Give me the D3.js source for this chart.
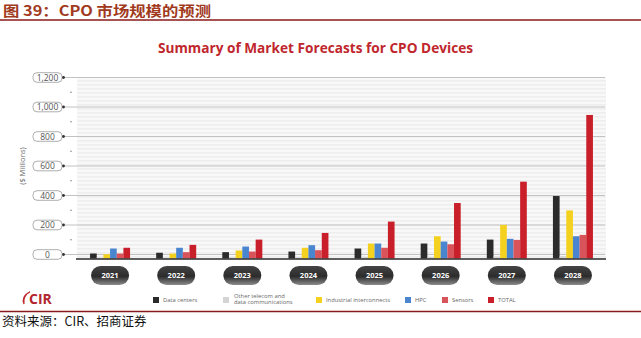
<!DOCTYPE html>
<html>
<head>
<meta charset="utf-8">
<script src="https://cdn.jsdelivr.net/npm/d3@7/dist/d3.min.js"></script>
<style>
  html, body { margin: 0; padding: 0; background: #fff; }
  svg { display: block; }
</style>
</head>
<body>
<svg id="chart" width="641" height="338"></svg>
<script>
// 数据
const years = ["2021", "2022", "2023", "2024", "2025", "2026", "2027", "2028"];
const seriesNames = ["Data centers", "Other telecom and\ndata communications", "Industrial interconnects", "HPC", "Sensors", "TOTAL"];
const dataCenters  = [33, 38, 42, 46, 66, 99, 125, 413];
const otherTelecom = [6, 6, 8, 8, 10, 10, 12, 15];
const industrial   = [28, 33, 53, 71, 99, 147, 222, 318];
const hpc          = [66, 71, 79, 88, 99, 112, 130, 147];
const sensors      = [33, 42, 46, 55, 71, 94, 123, 156];
const total        = [71, 90, 125, 169, 244, 367, 508, 949];
const yTicks = [0, 200, 400, 600, 800, 1000, 1200];
const yMinor = [100, 300, 500, 700, 900, 1100];

const colors = ["#2b2b2b", "#d4d4d4", "#f5d11f", "#4a86d0", "#d9535a", "#c81f2a"];
const allSeries = [dataCenters, otherTelecom, industrial, hpc, sensors, total];

const svg = d3.select("#chart");

// 顶部标题
svg.append("text")
  .attr("x", 3).attr("y", 16)
  .attr("font-family", "'Noto Sans CJK SC', sans-serif")
  .attr("font-weight", 700)
  .attr("font-size", 14)
  .attr("fill", "#a13a1d")
  .attr("textLength", 208)
  .attr("lengthAdjust", "spacingAndGlyphs")
  .text("图 39：CPO 市场规模的预测");
svg.append("line")
  .attr("x1", 0).attr("x2", 641).attr("y1", 20).attr("y2", 20)
  .attr("stroke", "#8b1a1a").attr("stroke-width", 1.5);

// 图表标题
svg.append("text")
  .attr("x", 158).attr("y", 53)
  .attr("font-family", "'Open Sans', sans-serif")
  .attr("font-weight", 700)
  .attr("font-size", 15)
  .attr("fill", "#c0272d")
  .attr("textLength", 315)
  .attr("lengthAdjust", "spacingAndGlyphs")
  .text("Summary of Market Forecasts for CPO Devices");

// 比例尺
const plotLeft = 77, plotRight = 606;
const yAxis = d3.scaleLinear().domain([0, 1200]).range([254.5, 77.5]);
const yBar = d3.scaleLinear().domain([0, 1200]).range([258.5, 77]);
const x0 = d3.scaleBand().domain(years).range([plotLeft, plotRight])
  .paddingInner(0.395).paddingOuter(0.1975);
const x1 = d3.scaleBand().domain(d3.range(seriesNames.length)).range([0, x0.bandwidth()]);

// 条纹背景
const defs = svg.append("defs");
const pat = defs.append("pattern")
  .attr("id", "stripes").attr("patternUnits", "userSpaceOnUse")
  .attr("width", 10).attr("height", 4);
pat.append("rect").attr("width", 10).attr("height", 4).attr("fill", "#f8f8f8");
pat.append("rect").attr("width", 10).attr("height", 1.6).attr("fill", "#eeeeee");

const grad = defs.append("linearGradient")
  .attr("id", "pill").attr("x1", 0).attr("x2", 0).attr("y1", 0).attr("y2", 1);
grad.append("stop").attr("offset", "0%").attr("stop-color", "#444");
grad.append("stop").attr("offset", "55%").attr("stop-color", "#2c2c2c");
grad.append("stop").attr("offset", "100%").attr("stop-color", "#8c8c8c");

svg.append("rect")
  .attr("x", plotLeft).attr("y", yAxis(1200))
  .attr("width", plotRight - plotLeft).attr("height", yBar(0) - yAxis(1200))
  .attr("fill", "url(#stripes)");

// 网格线和刻度
const tickG = svg.append("g").selectAll("g").data(yTicks).join("g")
  .attr("transform", d => `translate(0,${yAxis(d)})`);
tickG.append("line")
  .attr("x1", 63).attr("x2", plotRight - 1)
  .attr("stroke", "#c2c2c2").attr("stroke-width", 1);
tickG.append("rect")
  .attr("x", 33).attr("y", -4.8).attr("width", 29).attr("height", 9.6).attr("rx", 4)
  .attr("fill", "#fff").attr("stroke", "#9a9a9a").attr("stroke-width", 0.8);
tickG.append("circle").attr("cx", 63.5).attr("r", 1.4).attr("fill", "#333");
tickG.append("text")
  .attr("x", 47.5).attr("y", 3)
  .attr("text-anchor", "middle")
  .attr("font-family", "'Open Sans', sans-serif")
  .attr("font-size", 8.5)
  .attr("fill", "#555")
  .text(d => d3.format(",")(d));

svg.append("g").selectAll("circle").data(yMinor).join("circle")
  .attr("cx", 71).attr("cy", d => yAxis(d)).attr("r", 0.8).attr("fill", "#888");

svg.append("text")
  .attr("transform", `translate(25,${yAxis(600)}) rotate(-90)`)
  .attr("text-anchor", "middle")
  .attr("font-family", "'Open Sans', sans-serif")
  .attr("font-size", 7.5)
  .attr("fill", "#666")
  .text("($ Millions)");

// 柱子
const groups = svg.append("g").selectAll("g").data(years).join("g")
  .attr("transform", d => `translate(${x0(d)},0)`);
groups.selectAll("rect")
  .data((d, i) => allSeries.map((s, k) => ({ k, v: s[i] })))
  .join("rect")
  .attr("x", d => x1(d.k))
  .attr("width", x1.bandwidth())
  .attr("y", d => yBar(d.v))
  .attr("height", d => yBar(0) - yBar(d.v))
  .attr("fill", d => colors[d.k]);

// 基线
svg.append("line")
  .attr("x1", plotLeft - 1).attr("x2", plotRight)
  .attr("y1", yBar(0) + 0.5).attr("y2", yBar(0) + 0.5)
  .attr("stroke", "#2a2a2a").attr("stroke-width", 1.6);

// 年份胶囊
const pills = svg.append("g").selectAll("g").data(years).join("g")
  .attr("transform", d => `translate(${x0(d) + x0.bandwidth() / 2},275.5)`);
pills.append("rect")
  .attr("x", -19).attr("y", -9.5).attr("width", 38).attr("height", 19).attr("rx", 9.5)
  .attr("fill", "url(#pill)");
pills.append("text")
  .attr("y", 2.8).attr("text-anchor", "middle")
  .attr("font-family", "'Open Sans', sans-serif")
  .attr("font-weight", 700)
  .attr("font-size", 7.5)
  .attr("fill", "#fff")
  .text(d => d);

// 图例
const legendX = [153, 223, 316, 405, 442, 488];
const legend = svg.append("g").selectAll("g").data(seriesNames).join("g")
  .attr("transform", (d, i) => `translate(${legendX[i]},300)`);
legend.append("rect")
  .attr("x", 0).attr("y", -3).attr("width", 6).attr("height", 6)
  .attr("fill", (d, i) => colors[i]);
legend.append("text")
  .attr("font-family", "'Open Sans', sans-serif")
  .attr("font-size", 5.8)
  .attr("fill", "#666")
  .each(function (d) {
    const lines = d.split("\n");
    const t = d3.select(this);
    lines.forEach((ln, j) => {
      t.append("tspan")
        .attr("x", lines.length > 1 ? 11 : 10)
        .attr("y", lines.length > 1 ? -2.5 + j * 6.5 : 2)
        .text(ln);
    });
  });

// CIR 标志
const logo = svg.append("g").attr("transform", "translate(22,304)");
logo.append("path")
  .attr("d", "M8,-12 C3,-10 1,-5 2,0 C0,-4 2,-10 8,-12 Z")
  .attr("fill", "#c0272d").attr("stroke", "#c0272d").attr("stroke-width", 1.2);
logo.append("text")
  .attr("x", 7).attr("y", 0)
  .attr("font-family", "'Open Sans', sans-serif")
  .attr("font-weight", 700)
  .attr("font-size", 14)
  .attr("fill", "#b1272e")
  .text("CIR");

// 底部来源
svg.append("line")
  .attr("x1", 0).attr("x2", 641).attr("y1", 311.5).attr("y2", 311.5)
  .attr("stroke", "#8b1a1a").attr("stroke-width", 1.3);
svg.append("text")
  .attr("x", 2).attr("y", 326)
  .attr("font-family", "'Noto Sans CJK SC', sans-serif")
  .attr("font-size", 12.5)
  .attr("fill", "#111")
  .text("资料来源：CIR、招商证券");
</script>
</body>
</html>
